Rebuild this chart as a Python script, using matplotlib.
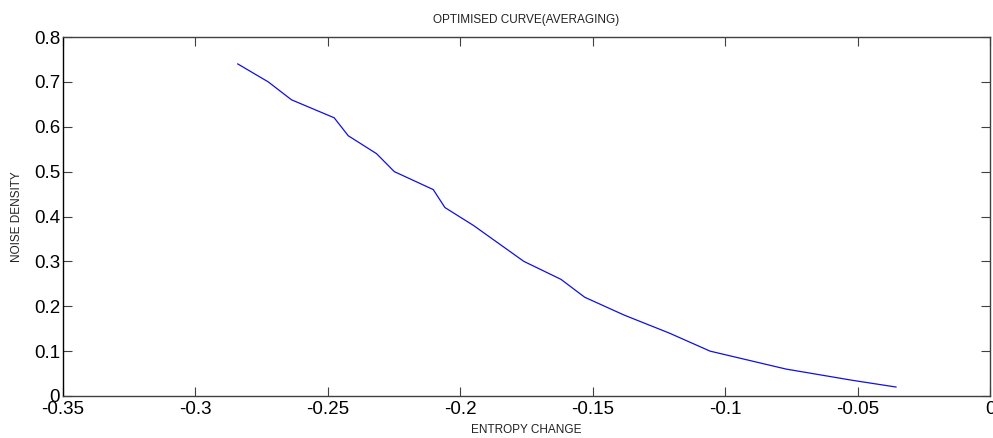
import matplotlib
matplotlib.use('Agg')
import matplotlib.pyplot as plt

# values
entropy_change = [-0.284, -0.2725, -0.2637, -0.2476, -0.2423, -0.2316, -0.2249,
                  -0.2102, -0.2058, -0.195, -0.1855, -0.176, -0.162, -0.153,
                  -0.138, -0.121, -0.1057, -0.077, -0.052, -0.0355]
noise_density = [0.74, 0.70, 0.66, 0.62, 0.58, 0.54, 0.50,
                 0.46, 0.42, 0.38, 0.34, 0.30, 0.26, 0.22,
                 0.18, 0.14, 0.10, 0.06, 0.035, 0.02]

x_ticks = [-0.35, -0.3, -0.25, -0.2, -0.15, -0.1, -0.05, 0]
x_tick_labels = ['-0.35', '-0.3', '-0.25', '-0.2', '-0.15', '-0.1', '-0.05', '0']
y_ticks = [0, 0.1, 0.2, 0.3, 0.4, 0.5, 0.6, 0.7, 0.8]
y_tick_labels = ['0', '0.1', '0.2', '0.3', '0.4', '0.5', '0.6', '0.7', '0.8']

format_line = dict(color='#1010e0', linewidth=0.9)
format_small = dict(fontsize=8.5, color='#222222')

plt.rcParams['font.family'] = ['Liberation Sans', 'DejaVu Sans']


def style_axes(ax):
    for side in ax.spines.values():
        side.set_color('#404040')
        side.set_linewidth(1.0)
    ax.spines['left'].set_color('#000000')
    ax.tick_params(direction='in', length=6.5, width=0.8, color='#404040',
                   top=True, right=True, labelsize=13.5)
    ax.tick_params(axis='x', pad=3.5)
    ax.tick_params(axis='y', pad=2)
    ax.set_xticks(x_ticks)
    ax.set_xticklabels(x_tick_labels)
    ax.set_yticks(y_ticks)
    ax.set_yticklabels(y_tick_labels)
    ax.set_xlim(-0.35, 0)
    ax.set_ylim(0, 0.8)


fig = plt.figure(figsize=(9.93, 4.38), dpi=100)
ax = fig.add_axes([0.0634, 0.0959, 0.9336, 0.8196])
ax.plot(entropy_change, noise_density, **format_line)
style_axes(ax)

ax.set_title('OPTIMISED CURVE(AVERAGING)', pad=10, **format_small)
ax.set_xlabel('ENTROPY CHANGE', **format_small)
ax.set_ylabel('NOISE DENSITY', **format_small)
ax.xaxis.set_label_coords(0.5, -0.078)
ax.yaxis.set_label_coords(-0.043, 0.5)

fig.savefig('out.png', dpi=100)
